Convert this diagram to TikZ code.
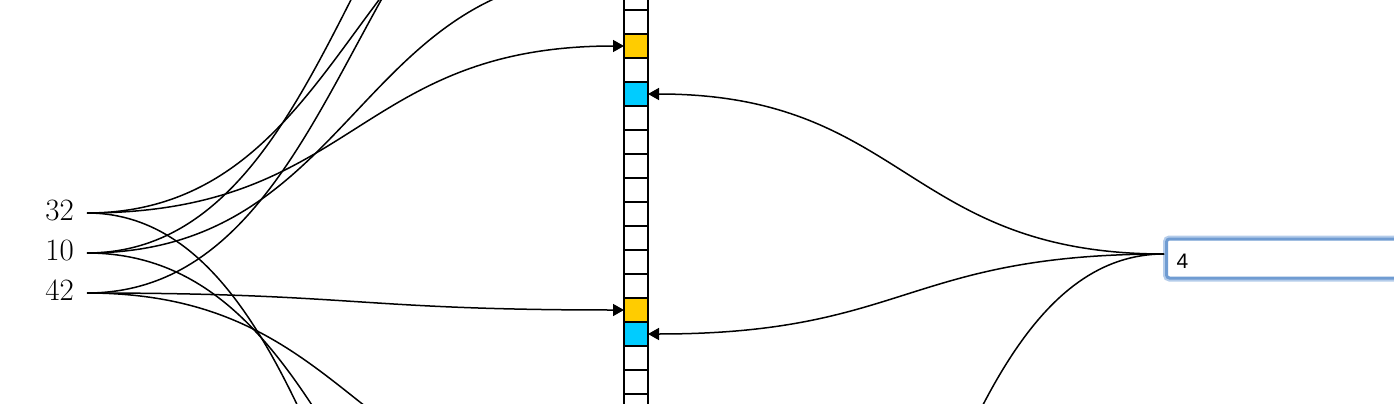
\documentclass[tikz,border=0pt]{standalone}
\usepackage{fontspec}
\newfontfamily\boxfont{Liberation Sans}
\usetikzlibrary{arrows.meta}
\definecolor{setyellow}{RGB}{255,204,0}
\definecolor{queryblue}{RGB}{0,204,255}
\definecolor{boxedge}{RGB}{112,156,210}
\definecolor{boxglow}{RGB}{180,204,234}
\tikzset{
	cell/.style={draw, line width=1.8pt, minimum width=24pt, minimum height=24pt, inner sep=0pt, outer sep=0pt, fill=white},
	cell 14/.style={fill=setyellow},
	cell 25/.style={fill=setyellow},
	cell 16/.style={fill=queryblue},
	cell 26/.style={fill=queryblue},
	key/.style={font=\fontsize{31}{31}\selectfont, text height=20.3pt, text depth=6.3pt, inner xsep=13pt, inner ysep=0pt, anchor=east},
	hash/.style={line width=1.5pt, -{Triangle[length=11pt,width=12pt]}, to path={.. controls +(#1,0) and +({-(#1)},0) .. (\tikztotarget)}},
	querybox/.style={draw=boxedge, line width=3pt, rounded corners=3pt, preaction={draw=boxglow, line width=7pt}, fill=white, anchor=west, minimum width=260pt, minimum height=39pt, text width=240pt, align=left, inner xsep=8pt, text height=19pt, text depth=0pt, font=\boxfont\fontsize{21}{21}\selectfont}
}
\begin{document}
\begin{tikzpicture}[x=1pt,y=-1pt]
	\useasboundingbox (0,0) rectangle (1394,404);
	\clip (0,0) rectangle (1394,404);
	% bit array
	\foreach \i in {1,...,50}
		\node[cell, cell \i/.try] (c\i) at (636,24*\i-290) {};
	% inserted keys
	\node[key] (k32) at (87,213) {32};
	\node[key] (k10) at (87,253) {10};
	\node[key] (k42) at (87,293) {42};
	\draw[hash=268.5] (k32.east) to (c14.west);
	\draw[hash=268.5] (k32.east) to (c6.west);
	\draw[hash=268.5] (k32.east) to (c48.west);
	\draw[hash=268.5] (k10.east) to (c11.west);
	\draw[hash=268.5] (k10.east) to (c1.west);
	\draw[hash=268.5] (k10.east) to (c41.west);
	\draw[hash=268.5] (k42.east) to (c4.west);
	\draw[hash=268.5] (k42.east) to (c25.west);
	\draw[hash=268.5] (k42.east) to (c33.west);
	% query
	\node[querybox] (query) at (1165,258.5) {4};
	\coordinate (qin) at (1164,254);
	\draw[hash=-258] (qin) to (c16.east);
	\draw[hash=-258] (qin) to (c26.east);
	\draw[hash=-258] (qin) to (c50.east);
\end{tikzpicture}
\end{document}
